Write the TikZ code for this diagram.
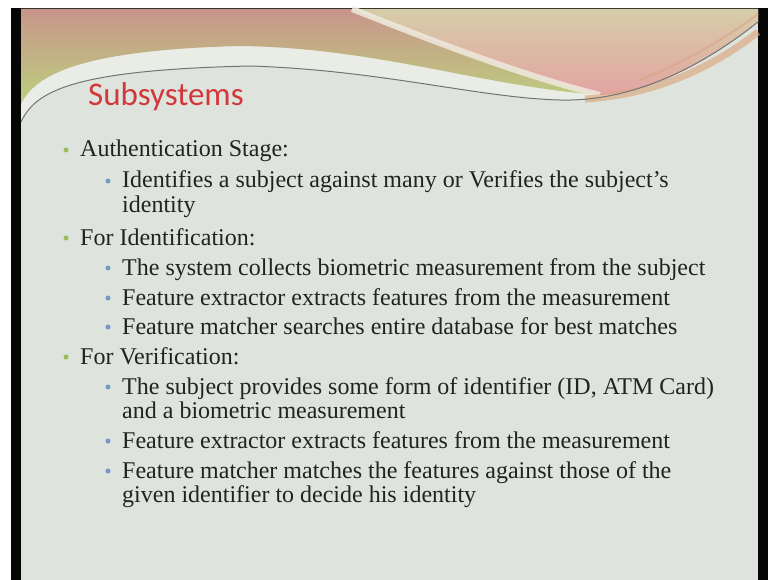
\documentclass[tikz,border=0pt]{standalone}
\usepackage{fontspec}
\setmainfont{Liberation Serif}
\newfontfamily\titlefont{Carlito}
\definecolor{slidebg}{HTML}{DEE4DD}
\definecolor{palehi}{HTML}{E9EDE6}
\definecolor{framedark}{HTML}{060606}
\definecolor{titlered}{HTML}{D2373A}
\definecolor{bodytext}{HTML}{222222}
\definecolor{bulletgreen}{HTML}{9CB95C}
\definecolor{bulletblue}{HTML}{7598C4}
\definecolor{wavetop}{HTML}{C8958B}
\definecolor{wavebottom}{HTML}{BCD07E}
\definecolor{pinktop}{HTML}{D6CDA8}
\definecolor{pinkbottom}{HTML}{E3A4A2}
\definecolor{stripe}{HTML}{EEEADE}
\definecolor{orangeband}{HTML}{D9A276}
\begin{document}
\begin{tikzpicture}[x=1pt,y=-1pt,
  lvlone/.style={anchor=base west,inner sep=0pt,text=bodytext,font=\fontsize{24}{28}\selectfont},
  lvltwo/.style={anchor=base west,inner sep=0pt,text=bodytext,font=\fontsize{24}{28}\selectfont},
  dotone/.style={circle,fill=bulletgreen,inner sep=0pt,minimum size=5pt},
  dottwo/.style={circle,fill=bulletblue,inner sep=0pt,minimum size=5pt}]
% canvas, dark frame and slide face
\fill[white] (0,0) rectangle (768,580);
\useasboundingbox (0,0) rectangle (768,580);
\fill[framedark] (11,8) rectangle (768,580);
\fill[slidebg] (21,9) rectangle (758,580);
% pale band under the wave
\fill[palehi] (21,122) .. controls (35,92) and (70,70) .. (250,66)
  .. controls (380,70) and (480,98) .. (560,100)
  .. controls (640,102) and (710,60) .. (758,22) -- (758,9) -- (21,9) -- cycle;
% left wave body
\shade[top color=wavetop,bottom color=wavebottom]
  (21,9) -- (352,9) .. controls (430,40) and (520,75) .. (600,95)
  .. controls (480,86) and (380,48) .. (240,46)
  .. controls (80,50) and (35,75) .. (21,104) -- cycle;
% right wave body
\shade[top color=pinktop,bottom color=pinkbottom]
  (352,9) -- (758,9) -- (758,22) .. controls (720,52) and (660,92) .. (600,95)
  .. controls (520,75) and (430,40) .. (352,9) -- cycle;
% light stripe between the two bodies
\draw[stripe,line width=6pt,opacity=0.85] (352,9) .. controls (430,40) and (520,75) .. (600,95);
% orange band on the right
\draw[orangeband,line width=7pt,opacity=0.6] (585,99) .. controls (660,95) and (720,62) .. (758,32);
\draw[orangeband!70!pinkbottom,line width=2pt,opacity=0.6] (640,80) .. controls (690,60) and (730,35) .. (758,14);
% thin grey line
\draw[black!55,line width=1pt] (21,122) .. controls (35,92) and (70,70) .. (250,66)
  .. controls (380,70) and (480,98) .. (560,100)
  .. controls (640,102) and (710,60) .. (758,22);
% slide title
\node[anchor=base west,inner sep=0pt,text=titlered,font=\titlefont\fontsize{33}{36}\selectfont] (title) at (88,106) {Subsystems};
% bullet points
\node[dotone] (b1) at (66,150) {};
\node[lvlone] (t1) at (80,157) {Authentication Stage:};
\node[dottwo] (b2) at (108,181) {};
\node[lvltwo] (t2) at (122,188) {Identifies a subject against many or Verifies the subject’s};
\node[lvltwo] (t2b) at (122,212) {identity};
\node[dotone] (b3) at (66,238) {};
\node[lvlone] (t3) at (80,245) {For Identification:};
\node[dottwo] (b4) at (108,268) {};
\node[lvltwo] (t4) at (122,275) {The system collects biometric measurement from the subject};
\node[dottwo] (b5) at (108,298) {};
\node[lvltwo] (t5) at (122,305) {Feature extractor extracts features from the measurement};
\node[dottwo] (b6) at (108,327) {};
\node[lvltwo] (t6) at (122,334) {Feature matcher searches entire database for best matches};
\node[dotone] (b7) at (66,357) {};
\node[lvlone] (t7) at (80,364) {For Verification:};
\node[dottwo] (b8) at (108,387) {};
\node[lvltwo] (t8) at (122,394) {The subject provides some form of identifier (ID, ATM Card)};
\node[lvltwo] (t8b) at (122,418) {and a biometric measurement};
\node[dottwo] (b9) at (108,441) {};
\node[lvltwo] (t9) at (122,448) {Feature extractor extracts features from the measurement};
\node[dottwo] (b10) at (108,471) {};
\node[lvltwo] (t10) at (122,478) {Feature matcher matches the features against those of the};
\node[lvltwo] (t10b) at (122,502) {given identifier to decide his identity};
\end{tikzpicture}
\end{document}
